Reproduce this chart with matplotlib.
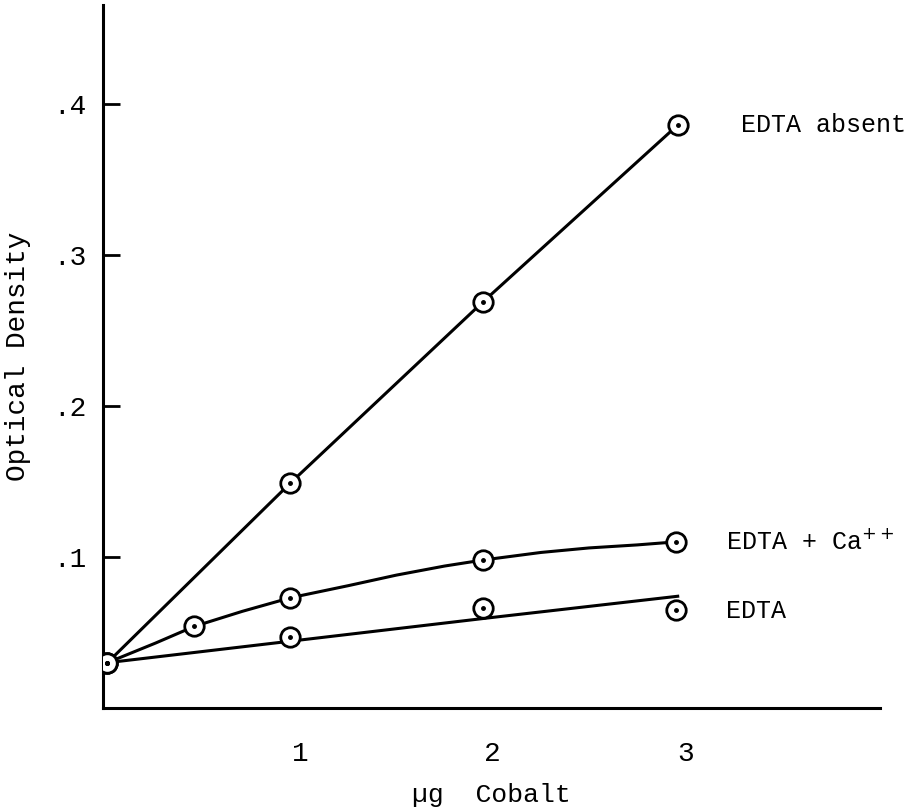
import matplotlib.pyplot as plt
import numpy as np

# values (ug cobalt vs optical density)
absent_x = [0, 0.95, 1.95, 2.96]
absent_y = [0.030, 0.149, 0.269, 0.386]

ca_x = [0, 0.45, 0.95, 1.95, 2.95]
ca_y = [0.030, 0.054, 0.073, 0.098, 0.110]
# hand drawn smooth curve through the Ca++ points
ca_curve_x = [0, 0.25, 0.45, 0.7, 0.95, 1.25, 1.5, 1.75, 1.95, 2.25, 2.5, 2.75, 2.95]
ca_curve_y = [0.030, 0.043, 0.054, 0.064, 0.073, 0.081, 0.088, 0.094, 0.098, 0.103, 0.106, 0.108, 0.110]

edta_x = [0, 0.95, 1.95, 2.95]
edta_y = [0.030, 0.047, 0.066, 0.065]
# fitted line for EDTA
edta_line_x = [0, 1, 2, 2.96]
edta_line_y = [0.030, 0.045, 0.060, 0.074]

x_ticks = [1, 2, 3]
y_ticks = [0.1, 0.2, 0.3, 0.4]
y_tick_labels = ['.1', '.2', '.3', '.4']

labels = ['EDTA absent', 'EDTA + Ca$^{++}$', 'EDTA']
label_x = [3.29, 3.21, 3.21]
label_y = [0.386, 0.110, 0.064]

font = 'Liberation Mono'

fig = plt.figure(figsize=(9.11, 8.11), dpi=100)
ax = fig.add_axes([0.113, 0.127, 0.853, 0.867])

lw = 2.2
ax.plot(absent_x, absent_y, color='black', lw=lw, zorder=2)
ax.plot(ca_curve_x, ca_curve_y, color='black', lw=lw, zorder=2)
ax.plot(edta_line_x, edta_line_y, color='black', lw=lw, zorder=2)

# open circles with a small dot in the middle
for xs, ys in [(absent_x, absent_y), (ca_x, ca_y), (edta_x, edta_y)]:
    ax.plot(xs, ys, 'o', ms=14, mfc='white', mec='black', mew=2.0, zorder=3)
    ax.plot(xs, ys, 'o', ms=2.5, color='black', zorder=4)

for t, tx, ty in zip(labels, label_x, label_y):
    ax.text(tx, ty, t, fontsize=18, family=font, va='center', ha='left')

ax.set_xlim(-0.023, 4.01)
ax.set_ylim(0, 0.4656)

ax.set_xticks(x_ticks)
ax.set_xticklabels([str(v) for v in x_ticks], family=font, fontsize=20)
ax.set_yticks(y_ticks)
ax.set_yticklabels(y_tick_labels, family=font, fontsize=20)

ax.tick_params(axis='x', length=0, pad=24)
ax.tick_params(axis='y', direction='in', length=12, width=2, pad=12)

ax.spines['top'].set_visible(False)
ax.spines['right'].set_visible(False)
ax.spines['left'].set_linewidth(2.2)
ax.spines['bottom'].set_linewidth(2.2)

ax.set_xlabel('\u00b5g  Cobalt', family=font, fontsize=19, labelpad=11)
ax.set_ylabel('Optical Density', family=font, fontsize=20, labelpad=16)

plt.savefig('out.png', dpi=100)
